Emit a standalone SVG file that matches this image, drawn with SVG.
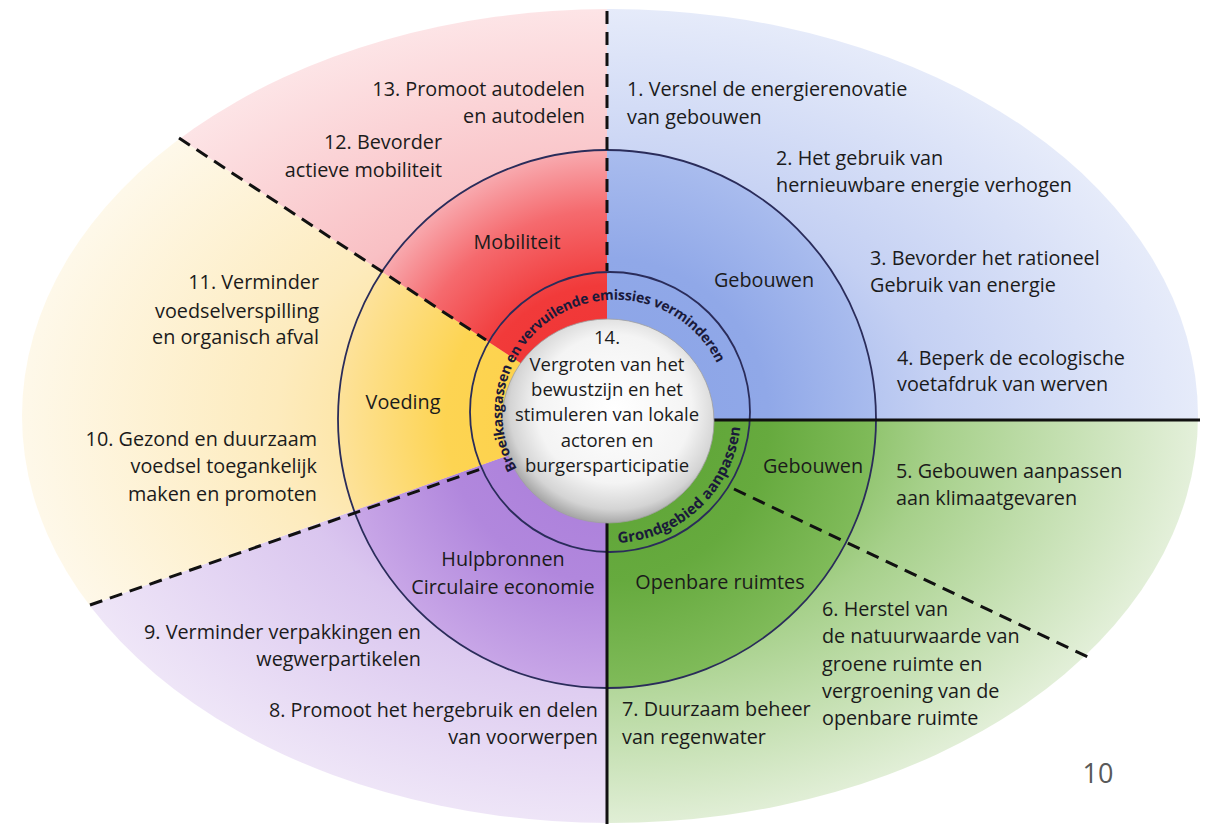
<svg xmlns="http://www.w3.org/2000/svg" width="1205" height="824" viewBox="0 0 1205 824">
<defs>
<style>
.t{font-family:"Open Sans","Liberation Sans",sans-serif;font-size:19.8px;fill:#1b1b1b}
.c{font-family:"Open Sans","Liberation Sans",sans-serif;font-size:18.5px;fill:#1b1b1b;text-anchor:middle}
.e{text-anchor:end}
.m{text-anchor:middle}
.r{font-family:"Open Sans","Liberation Sans",sans-serif;font-weight:bold;fill:#1a1a3a}
.ring{fill:none;stroke:#2a2c5a;stroke-width:1.8}
.dash{stroke:#111;stroke-width:3;stroke-dasharray:13 8;fill:none}
.solid{stroke:#111;stroke-width:3;fill:none}
</style>
<clipPath id="ell"><ellipse cx="610" cy="416" rx="588" ry="407"/></clipPath>
<clipPath id="circ"><circle cx="607" cy="419" r="269"/></clipPath>
<radialGradient id="oR" gradientUnits="userSpaceOnUse" cx="607" cy="420" r="600" gradientTransform="translate(607 420) scale(1 0.7) translate(-607 -420)">
<stop offset="0.35" stop-color="#f59aa0"/><stop offset="0.55" stop-color="#f9c0c4"/><stop offset="1" stop-color="#fde6e8"/></radialGradient>
<radialGradient id="oB" gradientUnits="userSpaceOnUse" cx="607" cy="420" r="600" gradientTransform="translate(607 420) scale(1 0.7) translate(-607 -420)">
<stop offset="0.35" stop-color="#a9bcee"/><stop offset="0.55" stop-color="#c4d0f3"/><stop offset="1" stop-color="#e7ecfa"/></radialGradient>
<radialGradient id="oG" gradientUnits="userSpaceOnUse" cx="607" cy="420" r="600" gradientTransform="translate(607 420) scale(1 0.7) translate(-607 -420)">
<stop offset="0.35" stop-color="#7fbb58"/><stop offset="0.55" stop-color="#a6d08a"/><stop offset="1" stop-color="#e6f1dd"/></radialGradient>
<radialGradient id="oP" gradientUnits="userSpaceOnUse" cx="607" cy="420" r="600" gradientTransform="translate(607 420) scale(1 0.7) translate(-607 -420)">
<stop offset="0.35" stop-color="#c9a8e8"/><stop offset="0.55" stop-color="#dac6ef"/><stop offset="1" stop-color="#f0e8f8"/></radialGradient>
<radialGradient id="oY" gradientUnits="userSpaceOnUse" cx="607" cy="420" r="600" gradientTransform="translate(607 420) scale(1 0.7) translate(-607 -420)">
<stop offset="0.35" stop-color="#fde29a"/><stop offset="0.55" stop-color="#fdebbd"/><stop offset="1" stop-color="#fef9ec"/></radialGradient>
<radialGradient id="iR" gradientUnits="userSpaceOnUse" cx="607" cy="420" r="269">
<stop offset="0" stop-color="#ef2f2f"/><stop offset="0.5" stop-color="#f13a3a"/><stop offset="0.78" stop-color="#f56a6e"/><stop offset="1" stop-color="#f8a9ae"/></radialGradient>
<radialGradient id="iB" gradientUnits="userSpaceOnUse" cx="607" cy="420" r="269">
<stop offset="0" stop-color="#8aa3e7"/><stop offset="0.6" stop-color="#90a8e8"/><stop offset="1" stop-color="#a9bcee"/></radialGradient>
<radialGradient id="iG" gradientUnits="userSpaceOnUse" cx="607" cy="420" r="269">
<stop offset="0" stop-color="#5aa232"/><stop offset="0.6" stop-color="#66aa3e"/><stop offset="1" stop-color="#80bb5a"/></radialGradient>
<radialGradient id="iP" gradientUnits="userSpaceOnUse" cx="607" cy="420" r="269">
<stop offset="0" stop-color="#a97bda"/><stop offset="0.6" stop-color="#b187dd"/><stop offset="1" stop-color="#c8a6e7"/></radialGradient>
<radialGradient id="iY" gradientUnits="userSpaceOnUse" cx="607" cy="420" r="269">
<stop offset="0" stop-color="#fdcf45"/><stop offset="0.6" stop-color="#fdd452"/><stop offset="1" stop-color="#fde29a"/></radialGradient>
<radialGradient id="gray" cx="0.53" cy="0.44" r="0.56">
<stop offset="0" stop-color="#ffffff"/><stop offset="0.65" stop-color="#f4f4f4"/><stop offset="0.88" stop-color="#d4d4d4"/><stop offset="1" stop-color="#a8a8a8"/></radialGradient>
<path id="pTop" d="M517.1,468.5 A113,113 0 1 1 716.6,362.5"/>
<path id="pBot" d="M618.1,542.9 A129,129 0 0 0 740.5,424.8"/>
</defs>

<g id="background">
<g clip-path="url(#ell)">
<polygon points="607,420 607,-700 2000,-700 2000,420" fill="url(#oB)"/>
<polygon points="607,420 2000,420 2000,2000 607,2000" fill="url(#oG)"/>
<polygon points="607,420 607,2000 -1276,2000 -1276,1094" fill="url(#oP)"/>
<polygon points="607,420 -1276,1094 -1276,-680 -1063,-680" fill="url(#oY)"/>
<polygon points="607,420 -1063,-680 -1063,-700 607,-700" fill="url(#oR)"/>
</g>
<g clip-path="url(#circ)">
<polygon points="607,420 607,-700 2000,-700 2000,420" fill="url(#iB)"/>
<polygon points="607,420 2000,420 2000,2000 607,2000" fill="url(#iG)"/>
<polygon points="607,420 607,2000 -1276,2000 -1276,1094" fill="url(#iP)"/>
<polygon points="607,420 -1276,1094 -1276,-680 -1063,-680" fill="url(#iY)"/>
<polygon points="607,420 -1063,-680 -1063,-700 607,-700" fill="url(#iR)"/>
</g>
<circle class="ring" cx="607" cy="419" r="269"/>
<circle class="ring" cx="610" cy="412" r="140"/>
</g>

<g id="connectors">
<path class="dash" d="M607,11 V271"/>
<path class="solid" d="M607,520 V824"/>
<path class="solid" d="M700,420 H1200"/>
<path class="dash" d="M179,138 L486,340"/>
<path class="dash" d="M90,605 L481,469"/>
<path class="dash" d="M734,489 L1090,658"/>
</g>

<g id="node-14">
<ellipse cx="608" cy="421" rx="106" ry="102" fill="url(#gray)" stroke="#a0a0a0" stroke-width="0.8"/>
<text class="c" x="607" y="344">14.</text>
<text class="c" x="607" y="371">Vergroten van het</text>
<text class="c" x="607" y="396">bewustzijn en het</text>
<text class="c" x="607" y="421">stimuleren van lokale</text>
<text class="c" x="607" y="447">actoren en</text>
<text class="c" x="607" y="472">burgersparticipatie</text>
</g>

<g id="ring-mitigation">
<text class="r" font-size="14"><textPath href="#pTop" textLength="362" lengthAdjust="spacing">Broeikasgassen en vervuilende emissies verminderen</textPath></text>
</g>
<g id="ring-adaptation">
<text class="r" font-size="15"><textPath href="#pBot" textLength="183" lengthAdjust="spacing">Grondgebied aanpassen</textPath></text>
</g>

<g id="mobiliteit">
<text class="t m" x="517" y="249">Mobiliteit</text>
<text class="t e" x="585" y="96">13. Promoot autodelen</text>
<text class="t e" x="585" y="123">en autodelen</text>
<text class="t e" x="442" y="149">12. Bevorder</text>
<text class="t e" x="442" y="177">actieve mobiliteit</text>
</g>

<g id="gebouwen-mitigatie">
<text class="t m" x="764" y="287">Gebouwen</text>
<text class="t" x="627" y="96">1. Versnel de energierenovatie</text>
<text class="t" x="627" y="124">van gebouwen</text>
<text class="t" x="776" y="165">2. Het gebruik van</text>
<text class="t" x="776" y="192">hernieuwbare energie verhogen</text>
<text class="t" x="870" y="265">3. Bevorder het rationeel</text>
<text class="t" x="870" y="292">Gebruik van energie</text>
<text class="t" x="897" y="365">4. Beperk de ecologische</text>
<text class="t" x="897" y="391">voetafdruk van werven</text>
</g>

<g id="gebouwen-adaptatie">
<text class="t m" x="813" y="473">Gebouwen</text>
<text class="t" x="896" y="478">5. Gebouwen aanpassen</text>
<text class="t" x="896" y="505">aan klimaatgevaren</text>
</g>

<g id="openbare-ruimtes">
<text class="t m" x="720" y="589">Openbare ruimtes</text>
<text class="t" x="822" y="616">6. Herstel van</text>
<text class="t" x="822" y="643">de natuurwaarde van</text>
<text class="t" x="822" y="671">groene ruimte en</text>
<text class="t" x="822" y="698">vergroening van de</text>
<text class="t" x="822" y="725">openbare ruimte</text>
<text class="t" x="622" y="716">7. Duurzaam beheer</text>
<text class="t" x="622" y="744">van regenwater</text>
</g>

<g id="hulpbronnen">
<text class="t m" x="503" y="566">Hulpbronnen</text>
<text class="t m" x="503" y="594">Circulaire economie</text>
<text class="t e" x="421" y="639">9. Verminder verpakkingen en</text>
<text class="t e" x="421" y="666">wegwerpartikelen</text>
<text class="t e" x="598" y="717">8. Promoot het hergebruik en delen</text>
<text class="t e" x="598" y="744">van voorwerpen</text>
</g>

<g id="voeding">
<text class="t m" x="403" y="409">Voeding</text>
<text class="t e" x="319" y="289">11. Verminder</text>
<text class="t e" x="319" y="318">voedselverspilling</text>
<text class="t e" x="319" y="344">en organisch afval</text>
<text class="t e" x="317" y="446">10. Gezond en duurzaam</text>
<text class="t e" x="317" y="473">voedsel toegankelijk</text>
<text class="t e" x="317" y="501">maken en promoten</text>
</g>

<g id="page-number">
<text x="1098" y="783" font-family="'Open Sans','Liberation Sans',sans-serif" font-size="27" fill="#595959" text-anchor="middle">10</text>
</g>
</svg>
